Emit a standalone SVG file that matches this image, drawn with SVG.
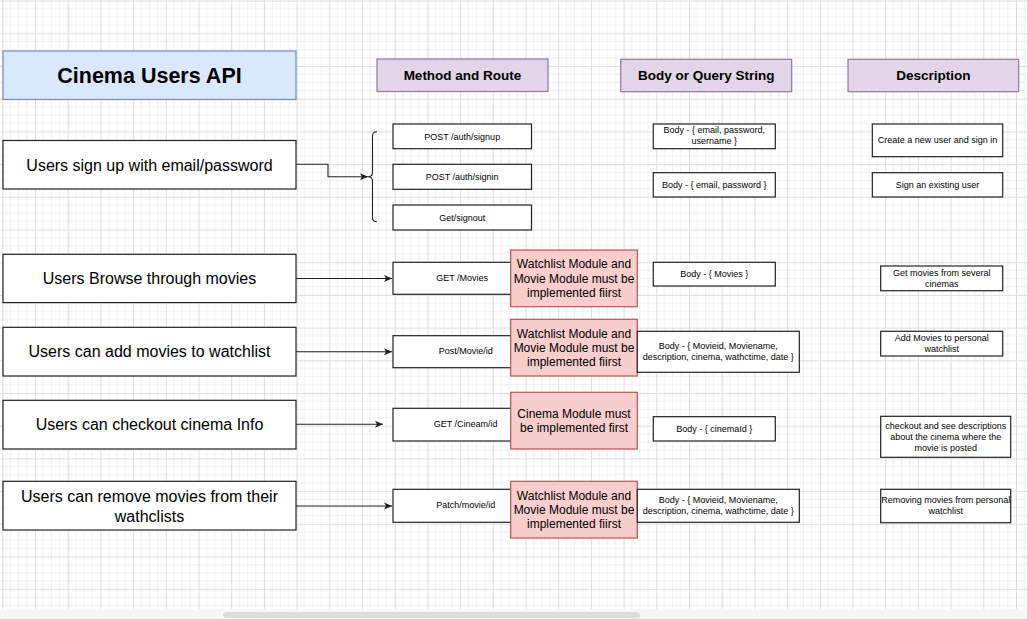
<svg xmlns="http://www.w3.org/2000/svg" width="1027" height="619" viewBox="0 0 1027 619">
<style>
text{font-family:"Liberation Sans",Arial,sans-serif;fill:#000;text-anchor:middle}
.box{fill:#fff;stroke:#222;stroke-width:1.2}
.title{fill:#dae8fc;stroke:#6c8ebf;stroke-width:1.2}
.hdr{fill:#e1d5e7;stroke:#9673a6;stroke-width:1.2}
.red{fill:#f8cecc;stroke:#b85450;stroke-width:1.2}
.t16{font-size:16px}
.t12{font-size:12px}
.t9{font-size:9px}
.hb{font-size:13.5px;font-weight:bold}
.edge{fill:none;stroke:#222;stroke-width:1.1}
</style>
<defs>
<pattern id="grid" patternUnits="userSpaceOnUse" x="2.3" y="0.6" width="32.7" height="32.7">
<path d="M8.175,0V32.7M16.35,0V32.7M24.525,0V32.7M0,8.175H32.7M0,16.35H32.7M0,24.525H32.7" stroke="#f0f0f0" stroke-width="1" fill="none"/>
<path d="M0.5,0V32.7M0,0.5H32.7" stroke="#dedede" stroke-width="1" fill="none"/>
</pattern>
<marker id="arr" markerUnits="userSpaceOnUse" markerWidth="9" markerHeight="8" refX="8" refY="4" orient="auto">
<path d="M0,0.5 L8,4 L0,7.5 L2,4 z" fill="#222"/>
</marker>
</defs>
<rect width="1027" height="619" fill="#fff"/>
<rect width="1027" height="609" fill="url(#grid)"/>
<rect x="0" y="609" width="1027" height="10" fill="#f7f7f7"/>
<rect x="223" y="612" width="417" height="6" rx="3" fill="#dcdcdc"/>

<g id="connectors">
<path class="edge" d="M296,164.3H328V176.7H368" marker-end="url(#arr)"/>
<path class="edge" d="M296,278.5H392" marker-end="url(#arr)"/>
<path class="edge" d="M296,351.7H392" marker-end="url(#arr)"/>
<path class="edge" d="M296,424.3H383" marker-end="url(#arr)"/>
<path class="edge" d="M296,506H392" marker-end="url(#arr)"/>
</g>

<g id="title"><rect class="title" x="3" y="51" width="293" height="48.5"/><text x="149.5" y="82.7" style="font-size:21.5px;font-weight:bold">Cinema Users API</text></g>
<g id="hdr-method"><rect class="hdr" x="377" y="59" width="171" height="32.5"/><text class="hb" x="462.5" y="79.5">Method and Route</text></g>
<g id="hdr-body"><rect class="hdr" x="620.7" y="59.3" width="171" height="32.4"/><text class="hb" x="706.2" y="79.8">Body or Query String</text></g>
<g id="hdr-desc"><rect class="hdr" x="848" y="59.3" width="170.7" height="32.4"/><text class="hb" x="933.3" y="79.8">Description</text></g>

<g id="uc-signup"><rect class="box" x="3" y="140.5" width="293" height="48.5"/><text class="t16" x="149.5" y="170.5">Users sign up with email/password</text></g>
<g id="uc-browse"><rect class="box" x="3" y="254.3" width="293" height="48.3"/><text class="t16" x="149.5" y="284.2">Users Browse through movies</text></g>
<g id="uc-add"><rect class="box" x="3" y="327.3" width="293" height="48.7"/><text class="t16" x="149.5" y="357.4">Users can add movies to watchlist</text></g>
<g id="uc-cinema"><rect class="box" x="3" y="400.3" width="293" height="48.7"/><text class="t16" x="149.5" y="430.4">Users can checkout cinema Info</text></g>
<g id="uc-remove"><rect class="box" x="3" y="481.3" width="293" height="48.7"/><text class="t16" x="149.5" y="502.3">Users can remove movies from their</text><text class="t16" x="149.5" y="521.5">wathclists</text></g>

<g id="brace"><path class="edge" d="M377,131.7C374,131.7 372.5,133 372.5,136V172.5C372.5,175.5 370.5,176.7 368,176.7C370.5,176.7 372.5,178 372.5,181V217.5C372.5,220.5 374,221.7 377,221.7"/></g>

<g id="rt-signup"><rect class="box" x="393" y="124" width="138.5" height="24.7"/><text class="t9" x="462.2" y="139.5">POST /auth/signup</text></g>
<g id="rt-signin"><rect class="box" x="393" y="164.3" width="138.5" height="25"/><text class="t9" x="462.2" y="180">POST /auth/signin</text></g>
<g id="rt-signout"><rect class="box" x="393" y="205" width="138.5" height="25"/><text class="t9" x="462.2" y="220.7">Get/signout</text></g>
<g id="rt-movies"><rect class="box" x="393" y="262.3" width="138.5" height="32"/><text class="t9" x="462.2" y="281">GET /Movies</text></g>
<g id="rt-post"><rect class="box" x="393" y="335.7" width="145.5" height="32"/><text class="t9" x="465.7" y="354">Post/Movie/id</text></g>
<g id="rt-cinema"><rect class="box" x="393" y="408.3" width="145.5" height="32.7"/><text class="t9" x="465.7" y="427">GET /Cineam/id</text></g>
<g id="rt-patch"><rect class="box" x="393" y="489.3" width="145.5" height="33"/><text class="t9" x="465.7" y="508.3">Patch/movie/id</text></g>

<g id="note1"><rect class="red" x="510.7" y="250" width="126.6" height="56.7"/><text class="t12" x="574" y="268.2">Watchlist Module and</text><text class="t12" x="574" y="282.6">Movie Module must be</text><text class="t12" x="574" y="297">implemented fiirst</text></g>
<g id="note2"><rect class="red" x="510.7" y="319.3" width="126.6" height="56.7"/><text class="t12" x="574" y="337.6">Watchlist Module and</text><text class="t12" x="574" y="352">Movie Module must be</text><text class="t12" x="574" y="366.4">implemented fiirst</text></g>
<g id="note3"><rect class="red" x="510.7" y="392.3" width="126.6" height="56.7"/><text class="t12" x="574" y="417.8">Cinema Module must</text><text class="t12" x="574" y="432.2">be implemented first</text></g>
<g id="note4"><rect class="red" x="510.7" y="481.3" width="126.6" height="56.7"/><text class="t12" x="574" y="499.6">Watchlist Module and</text><text class="t12" x="574" y="514">Movie Module must be</text><text class="t12" x="574" y="528.4">implemented fiirst</text></g>

<g id="body-signup"><rect class="box" x="653.3" y="124" width="122" height="24.7"/><text class="t9" x="714.3" y="133.2">Body - { email, password,</text><text class="t9" x="714.3" y="144">username }</text></g>
<g id="body-signin"><rect class="box" x="653.3" y="172.7" width="122" height="24.3"/><text class="t9" x="714.3" y="188.2">Body - { email, password }</text></g>
<g id="body-movies"><rect class="box" x="653.3" y="262.3" width="122" height="23.7"/><text class="t9" x="714.3" y="277.2">Body - { Movies }</text></g>
<g id="body-post"><rect class="box" x="637.3" y="331.3" width="162" height="41"/><text class="t9" x="718.3" y="349.4">Body - { Movieid, Moviename,</text><text class="t9" x="718.3" y="360.2">description, cinema, wathctime, date }</text></g>
<g id="body-cinema"><rect class="box" x="653.3" y="416.7" width="122" height="24.3"/><text class="t9" x="714.3" y="431.7">Body - { cinemaId }</text></g>
<g id="body-patch"><rect class="box" x="637.3" y="489.3" width="162" height="33"/><text class="t9" x="718.3" y="502.8">Body - { Movieid, Moviename,</text><text class="t9" x="718.3" y="513.8">description, cinema, wathctime, date }</text></g>

<g id="desc-signup"><rect class="box" x="872.3" y="124" width="130.4" height="32.7"/><text class="t9" x="937.5" y="143.3">Create a new user and sign in</text></g>
<g id="desc-signin"><rect class="box" x="872.3" y="172.7" width="130.4" height="24.3"/><text class="t9" x="937.5" y="188.2">Sign an existing user</text></g>
<g id="desc-movies"><rect class="box" x="880.7" y="266" width="122" height="24.7"/><text class="t9" x="941.7" y="275.8">Get movies from several</text><text class="t9" x="941.7" y="286.6">cinemas</text></g>
<g id="desc-add"><rect class="box" x="880.7" y="331.3" width="122" height="24.7"/><text class="t9" x="941.7" y="341.3">Add Movies to personal</text><text class="t9" x="941.7" y="352.1">watchlist</text></g>
<g id="desc-cinema"><rect class="box" x="880.7" y="416.3" width="130" height="41"/><text class="t9" x="945.7" y="429.2">checkout and see descriptions</text><text class="t9" x="945.7" y="440">about the cinema where the</text><text class="t9" x="945.7" y="450.8">movie is posted</text></g>
<g id="desc-remove"><rect class="box" x="880.7" y="489.3" width="130" height="33.4"/><text class="t9" x="945.7" y="503.4">Removing movies from personal</text><text class="t9" x="945.7" y="514.2">watchlist</text></g>
</svg>
